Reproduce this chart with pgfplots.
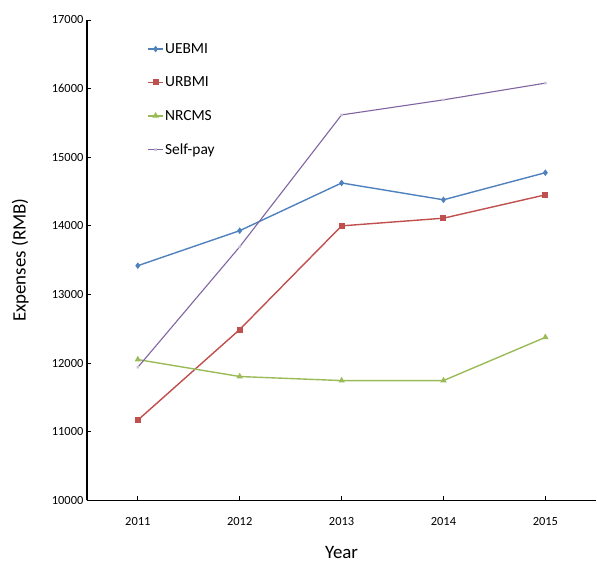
\documentclass[border=0pt]{standalone}
\usepackage{fontspec}
\setmainfont{Carlito}
\usepackage{pgfplots}
\pgfplotsset{compat=1.18}

\definecolor{cblue}{HTML}{4F81BD}
\definecolor{cred}{HTML}{C0504D}
\definecolor{cgreen}{HTML}{9BBB59}
\definecolor{cpurple}{HTML}{8064A2}

\begin{document}
\begin{tikzpicture}
\begin{axis}[
    name=ax,
    scale only axis,
    width=510bp, height=481bp,
    xmin=2010.5, xmax=2015.5,
    ymin=10000, ymax=17000,
    axis x line*=bottom,
    axis y line*=left,
    axis line style={line width=1.4bp},
    xtick={2011,2012,2013,2014,2015},
    ytick={10000,11000,...,17000},
    scaled ticks=false,
    tick align=inside,
    major tick length=4bp,
    tick style={line width=0.9bp, black},
    /pgf/number format/assume math mode=true,
    /pgf/number format/1000 sep={},
    ticklabel style={font=\fontsize{12.5}{14}\selectfont},
    xticklabel style={yshift=-14bp},
    xlabel={Year},
    ylabel={Expenses (RMB)},
    label style={font=\fontsize{19}{22}\selectfont},
    xlabel style={at={(axis description cs:0.5,-0.108)}, anchor=center},
    ylabel style={at={(axis description cs:-0.131,0.5)}, anchor=center},
    legend style={draw=none, fill=none, at={(0.112,0.958)}, anchor=north west,
        font=\fontsize{15.5}{17}\selectfont, row sep=20bp,
        nodes={inner sep=1bp}},
    legend cell align=left,
    legend image code/.code={
        \draw[#1] (0cm,0cm) -- (0.55cm,0cm);
        \draw[#1, only marks] plot coordinates {(0.275cm,0cm)};
    },
]
\addplot[cblue, line width=1.4bp, mark=diamond*, mark size=2.2bp] coordinates {
    (2011,13420) (2012,13930) (2013,14625) (2014,14380) (2015,14775)
};
\addlegendentry{UEBMI}
\addplot[cred, line width=1.4bp, mark=square*, mark size=2.3bp] coordinates {
    (2011,11170) (2012,12490) (2013,14000) (2014,14112) (2015,14452)
};
\addlegendentry{URBMI}
\addplot[cgreen, line width=1.4bp, mark=triangle*, mark size=2.4bp] coordinates {
    (2011,12052) (2012,11805) (2013,11746) (2014,11746) (2015,12376)
};
\addlegendentry{NRCMS}
\addplot[cpurple, line width=1.1bp, mark=x, mark size=1.5bp, mark options={cpurple!40}] coordinates {
    (2011,11940) (2012,13696) (2013,15617) (2014,15836) (2015,16080)
};
\addlegendentry{Self-pay}
\end{axis}
\path[use as bounding box] ([shift={(-87bp,-60bp)}]ax.south west) rectangle ([shift={(0bp,20bp)}]ax.north east);
\end{tikzpicture}
\end{document}
